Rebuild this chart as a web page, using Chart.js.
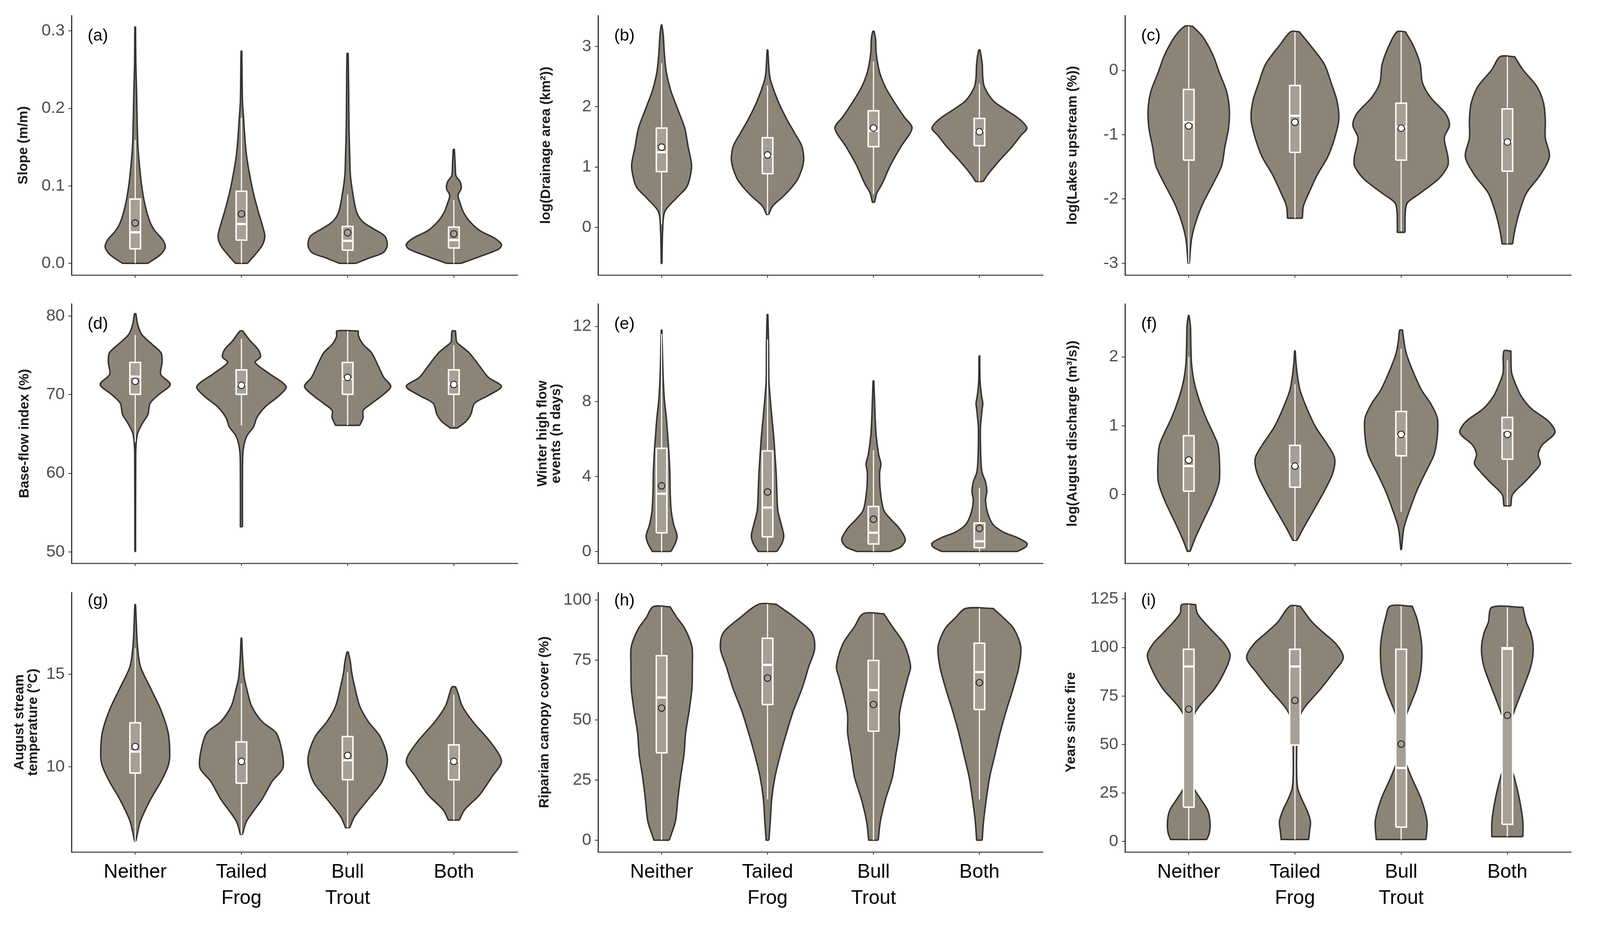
<!DOCTYPE html>
<html>
<head>
<meta charset="utf-8">
<title>Violin plots</title>
<script src="https://cdn.jsdelivr.net/npm/chart.js@4.4.1/dist/chart.umd.min.js"></script>
<style>
  html, body { margin: 0; padding: 0; background: #fff; overflow: hidden; }
  canvas { position: absolute; }
</style>
</head>
<body>
<script>
// groups on the x axis (positions 1..4)
const groups = ['Neither', ['Tailed', 'Frog'], ['Bull', 'Trout'], 'Both'];
const groupPos = [1, 2, 3, 4];

// violin profiles: [value, half width in x units], one list per group
// box stats: [whisker low, q1, median, q3, whisker high]

// (a) slope
const slopeViolins = [
    [[0, 0.12], [0.0114, 0.24], [0.021, 0.283], [0.030, 0.26], [0.042, 0.185], [0.054, 0.137], [0.078, 0.088], [0.102, 0.059], [0.126, 0.04], [0.150, 0.026], [0.173, 0.02], [0.221, 0.013], [0.257, 0.006], [0.305, 0.003]],
    [[0, 0.057], [0.0114, 0.13], [0.023, 0.195], [0.035, 0.22], [0.050, 0.195], [0.066, 0.16], [0.090, 0.114], [0.114, 0.078], [0.138, 0.049], [0.161, 0.033], [0.188, 0.02], [0.209, 0.01], [0.274, 0.003]],
    [[0, 0.08], [0.0067, 0.2], [0.0138, 0.335], [0.023, 0.373], [0.035, 0.35], [0.045, 0.237], [0.054, 0.14], [0.066, 0.085], [0.090, 0.049], [0.114, 0.026], [0.138, 0.02], [0.173, 0.013], [0.221, 0.01], [0.271, 0.005]],
    [[0, 0.07], [0.009, 0.25], [0.0186, 0.426], [0.0245, 0.448], [0.033, 0.377], [0.042, 0.247], [0.054, 0.15], [0.066, 0.09], [0.078, 0.058], [0.0876, 0.039], [0.097, 0.07], [0.1055, 0.058], [0.113, 0.02], [0.126, 0.013], [0.147, 0.005]]
];
const slopeBox = [[0, 0.0186, 0.040, 0.083, 0.159], [0, 0.030, 0.0507, 0.093, 0.188], [0, 0.017, 0.029, 0.0476, 0.089], [0, 0.0198, 0.030, 0.0467, 0.0817]];
const slopeMean = [0.052, 0.0638, 0.0395, 0.038];
const slopeTicks = [0, 0.1, 0.2, 0.3];
const slopeTickLabels = ['0.0', '0.1', '0.2', '0.3'];

// (b) drainage area
const drainViolins = [
    [[-0.6, 0.003], [-0.05, 0.01], [0.26, 0.03], [0.48, 0.137], [0.66, 0.234], [0.815, 0.266], [1.03, 0.283], [1.34, 0.25], [1.646, 0.218], [1.954, 0.153], [2.26, 0.088], [2.57, 0.045], [2.88, 0.026], [3.18, 0.016], [3.354, 0.003]],
    [[0.215, 0.01], [0.354, 0.049], [0.51, 0.146], [0.66, 0.227], [0.815, 0.29], [1.09, 0.34], [1.34, 0.325], [1.55, 0.26], [1.8, 0.179], [2.1, 0.097], [2.415, 0.032], [2.57, 0.016], [2.94, 0.003]],
    [[0.415, 0.01], [0.57, 0.032], [0.72, 0.081], [1.03, 0.16], [1.34, 0.26], [1.646, 0.364], [1.83, 0.29], [2.08, 0.195], [2.32, 0.114], [2.57, 0.058], [2.88, 0.026], [3.12, 0.02], [3.25, 0.006]],
    [[0.76, 0.036], [0.877, 0.08], [1.09, 0.18], [1.34, 0.31], [1.52, 0.39], [1.646, 0.448], [1.8, 0.374], [1.954, 0.244], [2.1, 0.13], [2.32, 0.049], [2.48, 0.032], [2.72, 0.026], [2.94, 0.006]]
];
const drainBox = [[0.05, 0.923, 1.246, 1.646, 2.72], [0.22, 0.89, 1.185, 1.486, 2.35], [0.55, 1.338, 1.6, 1.932, 2.75], [0.76, 1.354, 1.6, 1.806, 2.38]];
const drainMean = [1.33, 1.2, 1.646, 1.585];
const drainTicks = [0, 1, 2, 3];

// (c) lakes upstream
const lakesViolins = [
    [[-3.0, 0.006], [-2.63, 0.026], [-2.34, 0.07], [-2.06, 0.136], [-1.77, 0.227], [-1.48, 0.31], [-1.19, 0.34], [-0.906, 0.374], [-0.62, 0.383], [-0.33, 0.357], [-0.04, 0.29], [0.244, 0.227], [0.53, 0.13], [0.69, 0.036]],
    [[-2.3, 0.07], [-2.11, 0.08], [-1.91, 0.13], [-1.625, 0.21], [-1.34, 0.31], [-1.05, 0.374], [-0.762, 0.413], [-0.475, 0.396], [-0.187, 0.34], [0.1, 0.276], [0.39, 0.146], [0.604, 0.04]],
    [[-2.52, 0.036], [-2.2, 0.039], [-2.06, 0.058], [-1.91, 0.179], [-1.68, 0.357], [-1.48, 0.44], [-1.34, 0.44], [-1.05, 0.406], [-0.85, 0.455], [-0.676, 0.42], [-0.417, 0.276], [-0.187, 0.2], [0.1, 0.179], [0.39, 0.114], [0.604, 0.039]],
    [[-2.7, 0.049], [-2.49, 0.07], [-2.2, 0.114], [-1.91, 0.179], [-1.625, 0.31], [-1.34, 0.396], [-1.05, 0.357], [-0.762, 0.357], [-0.503, 0.34], [-0.245, 0.276], [0.014, 0.146], [0.216, 0.068]]
];
const lakesBox = [[-3.0, -1.395, -0.805, -0.296, 0.69], [-2.3, -1.274, -0.705, -0.233, 0.6], [-2.5, -1.395, -0.877, -0.509, 0.6], [-2.7, -1.567, -1.107, -0.598, 0.216]];
const lakesMean = [-0.863, -0.805, -0.897, -1.113];
const lakesTicks = [-3, -2, -1, 0];

// (d) base-flow index
const baseViolins = [
    [[50.05, 0.003], [62.4, 0.005], [64, 0.01], [65.2, 0.025], [66.4, 0.07], [67.5, 0.12], [68.9, 0.14], [70, 0.22], [71.3, 0.33], [72.6, 0.24], [74.1, 0.253], [75.3, 0.244], [76.4, 0.16], [77.6, 0.065], [78.8, 0.026], [80.3, 0.006]],
    [[53.2, 0.01], [60.1, 0.01], [62.9, 0.016], [64.7, 0.049], [65.9, 0.114], [67.1, 0.146], [68.5, 0.227], [69.9, 0.357], [71.05, 0.42], [72.7, 0.26], [74.1, 0.13], [74.8, 0.179], [75.7, 0.16], [76.9, 0.08], [78.1, 0.013]],
    [[66.1, 0.114], [67.1, 0.146], [68, 0.146], [68.9, 0.227], [69.9, 0.325], [71.05, 0.406], [72.2, 0.34], [73.6, 0.29], [75.3, 0.227], [76.4, 0.146], [77.4, 0.104], [78.1, 0.1]],
    [[65.75, 0.032], [66.6, 0.114], [67.5, 0.16], [68.9, 0.195], [69.9, 0.325], [71.05, 0.448], [72.2, 0.325], [73.6, 0.244], [75.3, 0.146], [76.4, 0.049], [76.7, 0.026], [78.1, 0.016]]
];
const baseBox = [[64, 70.05, 72.3, 74.1, 77.6], [66.1, 70.05, 71.3, 73.16, 77.1], [66.1, 70.05, 72.0, 74.1, 78.1], [66.0, 70.05, 71.4, 73.16, 76.3]];
const baseMean = [71.7, 71.2, 72.2, 71.3];
const baseTicks = [50, 60, 70, 80];

// (e) winter high flow events
const winterViolins = [
    [[0, 0.088], [0.44, 0.13], [0.84, 0.146], [1.43, 0.114], [2.2, 0.09], [3.2, 0.081], [4.2, 0.078], [5.16, 0.07], [6.14, 0.058], [7.1, 0.045], [8.1, 0.026], [9.1, 0.016], [10.1, 0.01], [11.8, 0.003]],
    [[0, 0.088], [0.44, 0.136], [0.84, 0.153], [1.43, 0.13], [2.2, 0.097], [3.2, 0.088], [4.2, 0.081], [5.16, 0.07], [6.14, 0.058], [7.1, 0.042], [8.1, 0.026], [9.1, 0.013], [11.06, 0.01], [12.63, 0.003]],
    [[0, 0.16], [0.25, 0.26], [0.64, 0.3], [1.23, 0.244], [1.72, 0.163], [2.2, 0.097], [3.2, 0.065], [4.2, 0.058], [4.67, 0.07], [5.16, 0.049], [6.14, 0.026], [7.1, 0.016], [8.1, 0.01], [9.1, 0.003]],
    [[0, 0.357], [0.25, 0.44], [0.44, 0.448], [0.74, 0.357], [1.03, 0.227], [1.43, 0.13], [2.0, 0.081], [2.7, 0.058], [3.2, 0.07], [3.7, 0.058], [4.2, 0.026], [4.67, 0.016], [5.65, 0.01], [6.63, 0.01], [7.6, 0.026], [7.9, 0.032], [8.3, 0.02], [9.1, 0.006], [10.42, 0.003]]
];
const winterBox = [[0, 0.99, 3.08, 5.5, 11.6], [0, 0.78, 2.34, 5.36, 11.3], [0, 0.4, 1.0, 2.4, 5.4], [0, 0.2, 0.54, 1.52, 3.4]];
const winterMean = [3.5, 3.17, 1.72, 1.23];
const winterTicks = [0, 4, 8, 12];

// (f) August discharge
const dischargeViolins = [
    [[-0.826, 0.013], [-0.62, 0.065], [-0.35, 0.146], [-0.085, 0.227], [0.18, 0.286], [0.447, 0.29], [0.714, 0.276], [0.9, 0.227], [1.11, 0.163], [1.38, 0.097], [1.65, 0.049], [1.91, 0.026], [2.18, 0.02], [2.45, 0.016], [2.6, 0.003]],
    [[-0.666, 0.02], [-0.485, 0.081], [-0.22, 0.179], [0.048, 0.276], [0.314, 0.357], [0.527, 0.374], [0.714, 0.31], [0.98, 0.195], [1.246, 0.114], [1.51, 0.049], [1.7, 0.026], [1.91, 0.01], [2.085, 0.003]],
    [[-0.8, 0.003], [-0.485, 0.026], [-0.22, 0.081], [0.048, 0.146], [0.314, 0.227], [0.58, 0.31], [0.847, 0.34], [1.113, 0.34], [1.326, 0.276], [1.51, 0.195], [1.78, 0.114], [2.045, 0.049], [2.23, 0.026], [2.39, 0.013]],
    [[-0.165, 0.033], [0.0, 0.049], [0.18, 0.163], [0.314, 0.244], [0.447, 0.31], [0.58, 0.29], [0.714, 0.325], [0.9, 0.448], [1.06, 0.39], [1.246, 0.227], [1.43, 0.13], [1.65, 0.065], [1.78, 0.039], [2.085, 0.033]]
];
const dischargeBox = [[-0.8, 0.048, 0.413, 0.855, 2.0], [-0.666, 0.107, 0.434, 0.714, 1.6], [-0.25, 0.562, 0.85, 1.206, 2.12], [-0.16, 0.514, 0.93, 1.12, 1.95]];
const dischargeMean = [0.5, 0.413, 0.873, 0.873];
const dischargeTicks = [0, 1, 2];

// (g) August stream temperature
const tempViolins = [
    [[6.01, 0.006], [7.08, 0.049], [8.27, 0.146], [9.23, 0.244], [10.06, 0.31], [10.65, 0.325], [11.85, 0.31], [13.04, 0.244], [14.23, 0.146], [15.42, 0.049], [16.6, 0.02], [17.8, 0.01], [18.75, 0.003]],
    [[6.37, 0.01], [7.08, 0.049], [8.27, 0.195], [9.23, 0.29], [9.94, 0.39], [10.9, 0.38], [11.85, 0.325], [12.44, 0.195], [13.27, 0.097], [14.23, 0.049], [14.82, 0.026], [16.0, 0.01], [16.94, 0.003]],
    [[6.73, 0.02], [7.32, 0.065], [8.27, 0.195], [9.23, 0.325], [10.42, 0.374], [11.6, 0.31], [12.44, 0.195], [13.27, 0.114], [14.23, 0.07], [15.06, 0.039], [15.65, 0.026], [16.19, 0.006]],
    [[7.14, 0.052], [7.68, 0.1], [8.51, 0.244], [9.46, 0.357], [10.3, 0.448], [11.25, 0.357], [12.44, 0.179], [13.27, 0.08], [13.98, 0.039], [14.32, 0.016]]
];
const tempBox = [[6.0, 9.67, 10.83, 12.38, 16.4], [6.37, 9.13, 10.3, 11.35, 14.5], [6.73, 9.31, 10.36, 11.64, 15.1], [7.14, 9.31, 10.32, 11.19, 13.9]];
const tempMean = [11.1, 10.3, 10.62, 10.3];
const tempTicks = [10, 15];

// (h) riparian canopy cover
const canopyViolins = [
    [[0, 0.072], [7.8, 0.13], [17.05, 0.153], [26.3, 0.179], [35.5, 0.211], [44.7, 0.227], [53.9, 0.26], [63.1, 0.286], [72.4, 0.29], [80.6, 0.286], [88, 0.221], [92.6, 0.146], [97.2, 0.08]],
    [[0, 0.013], [7.8, 0.026], [17.05, 0.039], [26.3, 0.07], [35.5, 0.12], [44.7, 0.179], [53.9, 0.244], [63.1, 0.325], [72.4, 0.39], [79.7, 0.445], [86.2, 0.42], [92.6, 0.26], [98.3, 0.08]],
    [[0, 0.045], [7.8, 0.065], [17.05, 0.114], [26.3, 0.179], [35.5, 0.211], [44.7, 0.244], [52.1, 0.244], [59.4, 0.276], [67.7, 0.325], [72.4, 0.35], [81.6, 0.29], [88.9, 0.179], [94.3, 0.097]],
    [[0, 0.026], [7.8, 0.039], [17.05, 0.065], [26.3, 0.097], [35.5, 0.146], [44.7, 0.195], [53.9, 0.253], [63.1, 0.318], [72.4, 0.374], [80.6, 0.39], [88, 0.325], [92.6, 0.227], [96.5, 0.13]]
];
const canopyBox = [[0, 36.4, 59.4, 76.8, 97.2], [17, 56.5, 73.0, 84.1, 98.3], [0, 45.4, 62.5, 74.8, 94.3], [17, 54.4, 70, 82, 96.5]];
const canopyMean = [55, 67.5, 56.5, 65.6];
const canopyTicks = [0, 25, 50, 75, 100];

// (i) years since fire
const fireViolins = [
    [[1, 0.17], [4.6, 0.195], [10.3, 0.2], [16, 0.179], [21.7, 0.114], [27.4, 0.049], [33.1, 0.026], [44.5, 0.016], [55.9, 0.02], [65, 0.049], [69.6, 0.097], [78.8, 0.244], [87.9, 0.34], [95.9, 0.39], [101.6, 0.34], [107.3, 0.244], [113, 0.146], [117.6, 0.081], [122.1, 0.065]],
    [[1, 0.13], [4.6, 0.136], [10.3, 0.146], [16, 0.114], [21.7, 0.065], [27.4, 0.026], [35.4, 0.016], [44.5, 0.016], [55.9, 0.02], [65, 0.049], [69.6, 0.097], [78.8, 0.244], [86.8, 0.357], [94.7, 0.455], [101.6, 0.39], [107.3, 0.276], [113, 0.163], [121.3, 0.049]],
    [[1, 0.234], [10.3, 0.244], [21.7, 0.189], [33.1, 0.097], [40, 0.049], [46.8, 0.032], [55.9, 0.032], [65, 0.049], [71.9, 0.097], [78.8, 0.146], [87.9, 0.185], [99.3, 0.195], [107.3, 0.179], [115.3, 0.146], [121.3, 0.104]],
    [[2.5, 0.146], [10.3, 0.146], [21.7, 0.114], [33.1, 0.065], [38.8, 0.032], [46.8, 0.02], [55.9, 0.02], [62.8, 0.039], [69.6, 0.081], [78.8, 0.146], [90.2, 0.221], [99.3, 0.244], [107.3, 0.221], [113, 0.179], [120.7, 0.146]]
];
const fireBox = [[1, 17.7, 90.2, 99.1, 122.1], [1, 49.7, 90.2, 99.1, 121.3], [1, 7.4, 37.9, 99.1, 121.3], [2.5, 8.8, 99.3, 99.9, 120.7]];
const fireMean = [68.2, 72.7, 50.2, 65];
const fireTicks = [0, 25, 50, 75, 100, 125];

// page layout, in reference pixels (4376 x 2368), scaled to the real window below
const pageW = 4376;
const pageH = 2368;
const colLeft = [196, 1636, 3077];
const colRight = [1416, 2853, 4297];
const rowTop = [40, 778, 1517];
const rowBottom = [704, 1442, 2181];

const sx = (window.innerWidth || pageW) / pageW;
const sy = (window.innerHeight || pageH) / pageH;
const fs = Math.min(sx, sy);

const titleSize = Math.round(35 * sy);
const titleLine = 1.0;

const violinFill = '#8c8477';
const violinLine = '#333333';
const boxFill = '#a69f94';
const boxHalf = 0.05;
const hollow = 'rgba(0,0,0,0)';

const panels = [
    {tag: '(a)', title: 'Slope (m/m)', titleX: 65, violins: slopeViolins, box: slopeBox, mean: slopeMean, ticks: slopeTicks, tickLabels: slopeTickLabels, min: -0.0151, max: 0.3198, meanFill: hollow},
    {tag: '(b)', title: 'log(Drainage area (km²))', titleX: 1494, violins: drainViolins, box: drainBox, mean: drainMean, ticks: drainTicks, min: -0.79, max: 3.51, meanFill: '#ffffff'},
    {tag: '(c)', title: 'log(Lakes upstream (%))', titleX: 2934, violins: lakesViolins, box: lakesBox, mean: lakesMean, ticks: lakesTicks, min: -3.184, max: 0.855, meanFill: '#ffffff'},
    {tag: '(d)', title: 'Base-flow index (%)', titleX: 68, violins: baseViolins, box: baseBox, mean: baseMean, ticks: baseTicks, min: 48.55, max: 81.55, meanFill: '#ffffff'},
    {tag: '(e)', title: ['Winter high flow', 'events (n days)'], titleX: 1485, violins: winterViolins, box: winterBox, mean: winterMean, ticks: winterTicks, min: -0.63, max: 13.2, meanFill: hollow},
    {tag: '(f)', title: 'log(August discharge (m³/s))', titleX: 2934, violins: dischargeViolins, box: dischargeBox, mean: dischargeMean, ticks: dischargeTicks, min: -1.0, max: 2.77, meanFill: '#ffffff'},
    {tag: '(g)', title: ['August stream', 'temperature (°C)'], titleX: 54, violins: tempViolins, box: tempBox, mean: tempMean, ticks: tempTicks, min: 5.42, max: 19.4, meanFill: '#ffffff'},
    {tag: '(h)', title: 'Riparian canopy cover (%)', titleX: 1490, violins: canopyViolins, box: canopyBox, mean: canopyMean, ticks: canopyTicks, min: -4.9, max: 103.1, meanFill: hollow},
    {tag: '(i)', title: 'Years since fire', titleX: 2930, violins: fireViolins, box: fireBox, mean: fireMean, ticks: fireTicks, min: -5.4, max: 128.3, meanFill: hollow}
];

Chart.defaults.font.family = '"Liberation Sans", Arial, sans-serif';

// outline of one violin, going up the right side and back down the left
function violinPoints(profile, c) {
    let right = profile.map(p => ({x: c + p[1], y: p[0]}));
    let left = profile.slice().reverse().map(p => ({x: c - p[1], y: p[0]}));
    let top = right[right.length - 1];
    let topL = left[0];
    let botL = left[left.length - 1];
    return [right[0], right[0]].concat(right.slice(1), [top], [topL], left.slice(1), [botL], [right[0], right[0]]);
}

function buildDatasets(p) {
    let sets = [];
    p.violins.forEach((profile, g) => {
        let c = groupPos[g];
        let b = p.box[g];
        sets.push({
            data: violinPoints(profile, c),
            showLine: true, fill: 'shape', tension: 0.3,
            backgroundColor: violinFill, borderColor: violinLine, borderWidth: 4 * fs,
            borderJoinStyle: 'round', pointRadius: 0, order: 5
        });
        sets.push({
            data: [{x: c, y: b[0]}, {x: c, y: b[4]}],
            showLine: true, borderColor: '#ffffff', borderWidth: 3 * fs, pointRadius: 0, order: 4
        });
        sets.push({
            data: [{x: c - boxHalf, y: b[1]}, {x: c + boxHalf, y: b[1]}, {x: c + boxHalf, y: b[3]}, {x: c - boxHalf, y: b[3]}, {x: c - boxHalf, y: b[1]}],
            showLine: true, fill: 'shape', tension: 0,
            backgroundColor: boxFill, borderColor: '#ffffff', borderWidth: 4 * fs, pointRadius: 0, order: 3
        });
        sets.push({
            data: [{x: c - boxHalf, y: b[2]}, {x: c + boxHalf, y: b[2]}],
            showLine: true, borderColor: '#ffffff', borderWidth: 6 * fs, pointRadius: 0, order: 2
        });
        sets.push({
            data: [{x: c, y: p.mean[g]}],
            showLine: false, pointRadius: 9 * fs, pointBorderWidth: 2.5 * fs,
            pointBorderColor: '#222222', pointBackgroundColor: p.meanFill, order: 1
        });
    });
    return sets;
}

const tagPlugin = {
    id: 'panelTag',
    afterDraw(chart, args, opts) {
        let ctx = chart.ctx;
        let area = chart.chartArea;
        ctx.save();
        ctx.font = Math.round(46 * fs) + 'px "Liberation Sans", Arial, sans-serif';
        ctx.fillStyle = '#000000';
        ctx.textBaseline = 'middle';
        ctx.textAlign = 'left';
        ctx.fillText(opts.text, area.left + 44 * sx, area.top + opts.dy * sy);
        ctx.restore();
    }
};

panels.forEach((p, i) => {
    let col = i % 3;
    let row = Math.floor(i / 3);
    let bottomRow = row === 2;
    let padTop = Math.round(40 * sy);
    let left = Math.round(p.titleX * sx - titleSize * titleLine / 2);
    let plotL = Math.round(colLeft[col] * sx);
    let plotR = Math.round(colRight[col] * sx);
    let plotT = Math.round(rowTop[row] * sy);
    let plotB = Math.round(rowBottom[row] * sy);
    let top = plotT - padTop;
    let xh = Math.round((bottomRow ? 180 : 40) * sy);
    let w = plotR + 20 - left;
    let h = plotB - plotT + padTop + xh;

    let canvas = document.createElement('canvas');
    canvas.width = w;
    canvas.height = h;
    canvas.style.left = left + 'px';
    canvas.style.top = top + 'px';
    canvas.style.width = w + 'px';
    canvas.style.height = h + 'px';
    document.body.appendChild(canvas);

    new Chart(canvas, {
        type: 'scatter',
        data: {datasets: buildDatasets(p)},
        plugins: [tagPlugin],
        options: {
            responsive: false,
            animation: false,
            devicePixelRatio: 1,
            events: [],
            layout: {padding: {top: padTop, right: 20, left: 0, bottom: 0}},
            plugins: {
                legend: {display: false},
                tooltip: {enabled: false},
                panelTag: {text: p.tag, dy: bottomRow ? 21 : 52}
            },
            scales: {
                x: {
                    type: 'linear', min: 0.4, max: 4.6,
                    afterBuildTicks: s => { s.ticks = groupPos.map(v => ({value: v})); },
                    afterFit: s => { s.height = xh; },
                    ticks: {
                        display: bottomRow, autoSkip: false, maxRotation: 0, padding: Math.round(12 * sy),
                        color: '#000000', font: {size: Math.round(53 * fs), lineHeight: 67 * sy / Math.round(53 * fs)},
                        callback: (v, idx) => groups[idx]
                    },
                    grid: {display: true, drawOnChartArea: false, drawTicks: true, tickLength: 7, lineWidth: 2, color: '#333333'},
                    border: {display: true, color: '#555555', width: 3}
                },
                y: {
                    type: 'linear', min: p.min, max: p.max,
                    afterBuildTicks: s => { s.ticks = p.ticks.map(v => ({value: v})); },
                    afterFit: s => { s.width = plotL - left; },
                    ticks: {
                        padding: Math.round(10 * sx), color: '#4d4d4d', font: {size: Math.round(46 * fs)},
                        callback: (v, idx) => p.tickLabels ? p.tickLabels[idx] : String(p.ticks[idx])
                    },
                    grid: {display: true, drawOnChartArea: false, drawTicks: true, tickLength: 8, lineWidth: 2, color: '#333333'},
                    border: {display: true, color: '#333333', width: 3},
                    title: {
                        display: true, text: p.title, color: '#1a1a1a', padding: 0,
                        font: {size: titleSize, weight: 'bold', lineHeight: titleLine}
                    }
                }
            }
        }
    });
});
</script>
</body>
</html>
